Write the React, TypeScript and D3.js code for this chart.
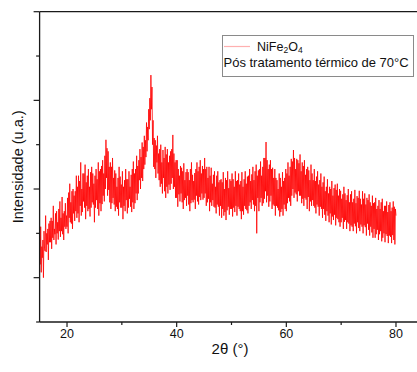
import { useEffect, useRef } from "react"
import * as d3 from "d3"

// Difratograma NiFe2O4 — leitura do gráfico, passo de 0.1° a partir de 15°
const thetaStart = 15
const thetaStep = 0.1
const intensity = [
  190, 130, 215, 112, 170, 145, 185, 100, 205, 165,
  160, 240, 158, 200, 175, 210, 140, 222, 180, 228,
  180, 235, 165, 228, 190, 262, 185, 210, 198, 245,
  175, 250, 200, 225, 186, 255, 205, 272, 192, 235,
  205, 282, 198, 245, 185, 250, 215, 268, 210, 240,
  215, 280, 200, 292, 235, 312, 225, 270, 222, 295,
  210, 300, 245, 285, 228, 295, 250, 330, 235, 305,
  245, 330, 225, 318, 262, 360, 240, 300, 248, 335,
  272, 335, 258, 355, 232, 315, 262, 330, 250, 345,
  255, 305, 238, 338, 258, 350, 270, 335, 265, 312,
  225, 330, 258, 345, 275, 322, 255, 360, 240, 340,
  268, 345, 250, 352, 266, 365, 285, 335, 272, 375,
  300, 411, 325, 392, 285, 385, 298, 350, 270, 360,
  255, 350, 268, 370, 280, 325, 265, 342, 250, 335,
  260, 305, 255, 325, 240, 350, 270, 328, 258, 310,
  258, 340, 232, 305, 262, 320, 250, 345, 275, 322,
  245, 322, 258, 340, 278, 305, 260, 332, 248, 345,
  270, 362, 255, 335, 268, 345, 290, 375, 275, 352,
  290, 365, 320, 390, 300, 372, 325, 405, 318, 395,
  345, 420, 355, 410, 372, 450, 385, 440, 410, 480,
  435, 505, 455, 557, 480, 530, 400, 455, 350, 415,
  345, 410, 325, 398, 360, 420, 335, 380, 320, 390,
  305, 400, 312, 360, 290, 388, 325, 370, 295, 395,
  280, 378, 305, 390, 290, 360, 310, 375, 298, 385,
  312, 390, 325, 422, 300, 380, 305, 360, 280, 365,
  280, 365, 260, 345, 288, 330, 272, 352, 290, 348,
  270, 340, 255, 358, 275, 320, 280, 338, 262, 345,
  285, 338, 265, 320, 250, 345, 268, 360, 275, 332,
  270, 318, 276, 336, 255, 345, 285, 360, 272, 340,
  265, 350, 282, 365, 275, 335, 290, 352, 276, 345,
  280, 370, 290, 345, 262, 350, 270, 325, 278, 350,
  250, 330, 270, 348, 262, 312, 275, 332, 260, 340,
  258, 305, 245, 330, 265, 340, 260, 315, 240, 320,
  262, 322, 235, 315, 255, 338, 240, 300, 248, 325,
  230, 320, 252, 340, 260, 302, 242, 322, 255, 318,
  255, 335, 238, 322, 258, 305, 248, 340, 262, 318,
  240, 320, 260, 335, 255, 310, 250, 318, 232, 338,
  250, 305, 242, 322, 262, 340, 255, 312, 252, 328,
  245, 330, 262, 345, 270, 318, 255, 333, 275, 350,
  265, 320, 250, 340, 262, 355, 200, 330, 280, 342,
  250, 345, 270, 362, 280, 330, 262, 350, 268, 370,
  278, 370, 295, 406, 270, 365, 285, 345, 260, 355,
  272, 365, 285, 345, 255, 348, 265, 325, 262, 345,
  240, 325, 262, 320, 258, 300, 252, 335, 238, 325,
  248, 305, 255, 338, 240, 318, 265, 325, 255, 345,
  250, 335, 268, 360, 280, 330, 272, 350, 262, 368,
  285, 362, 300, 388, 280, 370, 292, 345, 288, 368,
  272, 365, 295, 358, 285, 378, 285, 340, 268, 360,
  278, 352, 262, 365, 280, 332, 276, 345, 255, 350,
  282, 342, 250, 320, 272, 355, 262, 335, 275, 320,
  262, 345, 258, 318, 245, 328, 265, 340, 260, 310,
  240, 320, 260, 335, 255, 305, 235, 315, 255, 328,
  242, 295, 228, 305, 250, 322, 240, 290, 225, 305,
  245, 300, 220, 318, 238, 285, 230, 302, 242, 310,
  218, 298, 235, 312, 232, 285, 225, 300, 215, 296,
  225, 278, 235, 288, 210, 305, 226, 290, 230, 275,
  210, 286, 225, 300, 222, 270, 205, 288, 218, 295,
  215, 270, 205, 278, 222, 298, 216, 268, 200, 284,
  225, 280, 212, 296, 205, 278, 220, 265, 215, 295,
  200, 278, 218, 290, 214, 265, 195, 280, 222, 275,
  208, 288, 195, 270, 215, 262, 202, 285, 190, 268,
  210, 270, 190, 280, 198, 255, 208, 262, 185, 275,
  198, 255, 205, 270, 182, 278, 190, 250, 200, 262,
  180, 262, 198, 272, 194, 248, 178, 264, 195, 270,
  192, 250, 178, 258, 196, 272, 185, 260, 175, 255,
  240,
]

const xMajorTicks = [20, 40, 60, 80]
const xMinorTicks = [30, 50, 70]
const yMajorTicks = [100, 300, 500, 700]
const yMinorTicks = [0, 200, 400, 600]

const legendName = "NiFe"
const legendNote = "Pós tratamento térmico de 70°C"

export default function App() {
  const svgRef = useRef<SVGSVGElement>(null)

  useEffect(() => {
    if (!svgRef.current) return
    const svg = d3.select(svgRef.current)
    svg.selectAll("*").remove()

    const font = "'Liberation Sans', Arial, sans-serif"

    // Escalas
    const x = d3.scaleLinear().domain([15, 85]).range([39.6, 423.4])
    const y = d3.scaleLinear().domain([0, 700]).range([322, 11.7])

    const data = intensity.map((v, i) => ({ t: thetaStart + i * thetaStep, v }))

    // Linha do difratograma
    const line = d3
      .line<{ t: number; v: number }>()
      .x((d) => x(d.t))
      .y((d) => y(d.v))

    svg
      .append("path")
      .datum(data)
      .attr("fill", "none")
      .attr("stroke", "#ff0000")
      .attr("stroke-width", 0.8)
      .attr("d", line)

    // Moldura
    const axisColor = "#1a1a1a"
    const frame = [
      [x(15), y(0), x(85), y(0)],
      [x(15), y(700), x(85), y(700)],
      [x(15), y(0), x(15), y(700)],
    ]
    svg
      .selectAll(".frame")
      .data(frame)
      .enter()
      .append("line")
      .attr("x1", (d) => d[0]).attr("y1", (d) => d[1])
      .attr("x2", (d) => d[2]).attr("y2", (d) => d[3])
      .attr("stroke", axisColor).attr("stroke-width", 1.3)

    // Ticks eixo X
    svg
      .selectAll(".xmaj")
      .data(xMajorTicks)
      .enter()
      .append("line")
      .attr("x1", (d) => x(d)).attr("x2", (d) => x(d))
      .attr("y1", y(0)).attr("y2", y(0) + 5)
      .attr("stroke", axisColor).attr("stroke-width", 1.2)
    svg
      .selectAll(".xmin")
      .data(xMinorTicks)
      .enter()
      .append("line")
      .attr("x1", (d) => x(d)).attr("x2", (d) => x(d))
      .attr("y1", y(0)).attr("y2", y(0) + 3)
      .attr("stroke", axisColor).attr("stroke-width", 1.2)
    svg
      .selectAll(".xlab")
      .data(xMajorTicks)
      .enter()
      .append("text")
      .attr("x", (d) => x(d))
      .attr("y", y(0) + 16)
      .attr("text-anchor", "middle")
      .attr("font-family", font)
      .attr("font-size", 12.5)
      .attr("fill", "#111")
      .text((d) => d)

    // Ticks eixo Y (sem rótulos)
    svg
      .selectAll(".ymaj")
      .data(yMajorTicks)
      .enter()
      .append("line")
      .attr("x1", x(15) - 6).attr("x2", x(15))
      .attr("y1", (d) => y(d)).attr("y2", (d) => y(d))
      .attr("stroke", axisColor).attr("stroke-width", 1.2)
    svg
      .selectAll(".ymin")
      .data(yMinorTicks)
      .enter()
      .append("line")
      .attr("x1", x(15) - 3.5).attr("x2", x(15))
      .attr("y1", (d) => y(d)).attr("y2", (d) => y(d))
      .attr("stroke", axisColor).attr("stroke-width", 1.2)

    // Títulos dos eixos
    svg
      .append("text")
      .attr("x", 230)
      .attr("y", 354)
      .attr("text-anchor", "middle")
      .attr("font-family", font)
      .attr("font-size", 15)
      .attr("fill", "#111")
      .text("2θ (°)")
    svg
      .append("text")
      .attr("transform", `translate(23,${(y(0) + y(700)) / 2}) rotate(-90)`)
      .attr("text-anchor", "middle")
      .attr("font-family", font)
      .attr("font-size", 14.5)
      .attr("fill", "#111")
      .text("Intensidade (u.a.)")

    // Legenda
    const lg = svg.append("g")
    lg.append("rect")
      .attr("x", 222.5).attr("y", 35.5)
      .attr("width", 191).attr("height", 41)
      .attr("fill", "#fff")
      .attr("stroke", "#8a8a8a").attr("stroke-width", 1)
    lg.append("line")
      .attr("x1", 224).attr("x2", 250)
      .attr("y1", 46.5).attr("y2", 46.5)
      .attr("stroke", "#ffb0b0").attr("stroke-width", 1.2)
    const name = lg.append("text")
      .attr("x", 257).attr("y", 50.5)
      .attr("font-family", font)
      .attr("font-size", 12.5)
      .attr("fill", "#111")
    name.append("tspan").text(legendName)
    name.append("tspan").attr("font-size", 8.5).attr("dy", 2.5).text("2")
    name.append("tspan").attr("dy", -2.5).text("O")
    name.append("tspan").attr("font-size", 8.5).attr("dy", 2.5).text("4")
    lg.append("text")
      .attr("x", 223.5).attr("y", 67)
      .attr("font-family", font)
      .attr("font-size", 13)
      .attr("fill", "#111")
      .text(legendNote)
  }, [])

  return (
    <div style={{ position: "absolute", left: 0, top: 0 }}>
      <svg ref={svgRef} width={417} height={372} style={{ display: "block", background: "#fff" }} />
    </div>
  )
}
